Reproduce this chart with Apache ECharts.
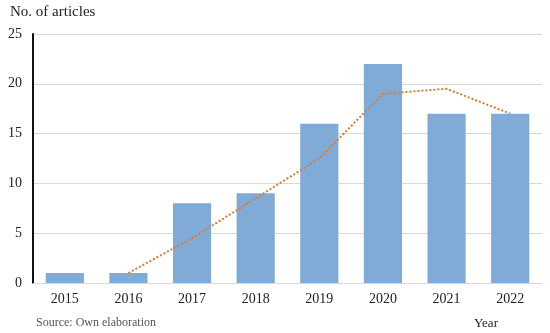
<!DOCTYPE html>
<html><head><meta charset="utf-8">
<script src="https://cdn.jsdelivr.net/npm/echarts@6/dist/echarts.min.js"></script>
<style>html,body{margin:0;padding:0;background:#fff}#c{width:550px;height:333px}</style>
</head><body><div id="c"></div>
<script>
var years = ['2015','2016','2017','2018','2019','2020','2021','2022'];
var articles = [1, 1, 8, 9, 16, 22, 17, 17];
var movingAvg = [null, 1, 4.5, 8.5, 12.5, 19, 19.5, 17];
var yTicks = [0, 5, 10, 15, 20, 25];
var font = 'Liberation Serif';
var chart = echarts.init(document.getElementById('c'));
chart.setOption({
  animation: false,
  textStyle: {fontFamily: font},
  grid: {left: 33, right: 8, top: 34, bottom: 50, containLabel: false},
  graphic: [
    {type: 'text', left: 10, top: 5, style: {text: 'No. of articles', font: '15px "Liberation Serif"', fill: '#222'}},
    {type: 'text', left: 36, top: 317, style: {text: 'Source: Own elaboration', font: '12px "Liberation Serif"', fill: '#555'}},
    {type: 'text', left: 474, top: 317, style: {text: 'Year', font: '13px "Liberation Serif"', fill: '#222'}}
  ],
  xAxis: {
    type: 'category', data: years,
    axisLine: {lineStyle: {color: '#d9d9d9', width: 1}},
    axisTick: {show: false},
    axisLabel: {color: '#222', fontSize: 14, fontFamily: font, margin: 9}
  },
  yAxis: {
    type: 'value', min: 0, max: 25, interval: 5,
    axisLine: {show: true, lineStyle: {color: '#111', width: 2}},
    axisTick: {show: false},
    splitLine: {lineStyle: {color: '#d9d9d9', width: 1}},
    axisLabel: {color: '#222', fontSize: 14, fontFamily: font, margin: 11,
      formatter: function (v) { return yTicks.indexOf(v) >= 0 ? String(v) : ''; }}
  },
  series: [
    {type: 'bar', data: articles, barWidth: '60%', itemStyle: {color: '#80abd6'}},
    {type: 'line', data: movingAvg, symbol: 'none', connectNulls: false,
      lineStyle: {color: '#e0782f', width: 2, type: [2, 2]}}
  ]
});
</script></body></html>
